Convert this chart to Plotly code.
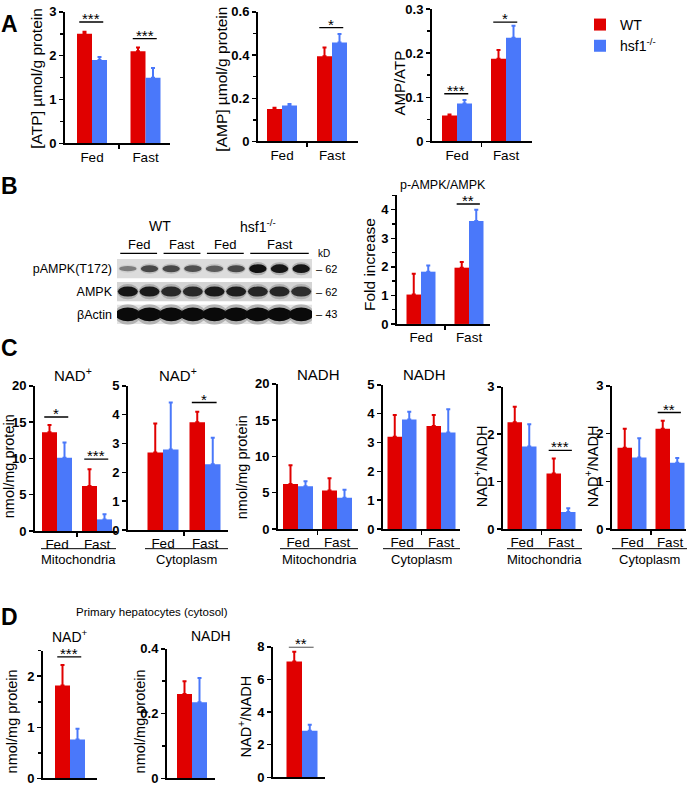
import plotly.graph_objects as go

W, H = 687, 802
RED = "#E00000"
BLUE = "#4A78FA"
FONT = "Arial, 'Liberation Sans', Helvetica, sans-serif"

groups = ["Fed", "Fast"]
series_names = ["WT", "hsf1<sup>-/-</sup>"]

# ---------------- data ----------------
# A
atp_wt, atp_wt_err = [2.50, 2.10], [0.05, 0.09]
atp_ko, atp_ko_err = [1.90, 1.50], [0.07, 0.22]
amp_wt, amp_wt_err = [0.150, 0.395], [0.006, 0.040]
amp_ko, amp_ko_err = [0.167, 0.458], [0.006, 0.040]
ratio_a_wt, ratio_a_wt_err = [0.059, 0.187], [0.002, 0.020]
ratio_a_ko, ratio_a_ko_err = [0.086, 0.235], [0.008, 0.027]
# B
pampk_wt, pampk_wt_err = [1.03, 1.97], [0.73, 0.20]
pampk_ko, pampk_ko_err = [1.83, 3.60], [0.22, 0.40]
# C
nad_mito_wt, nad_mito_wt_err = [13.6, 6.2], [1.0, 2.3]
nad_mito_ko, nad_mito_ko_err = [10.1, 1.6], [2.1, 0.7]
nad_cyto_wt, nad_cyto_wt_err = [2.69, 3.74], [1.00, 0.36]
nad_cyto_ko, nad_cyto_ko_err = [2.79, 2.28], [1.63, 0.92]
nadh_mito_wt, nadh_mito_wt_err = [6.2, 5.3], [2.6, 1.7]
nadh_mito_ko, nadh_mito_ko_err = [5.9, 4.3], [0.7, 1.1]
nadh_cyto_wt, nadh_cyto_wt_err = [3.20, 3.57], [0.75, 0.38]
nadh_cyto_ko, nadh_cyto_ko_err = [3.80, 3.35], [0.27, 0.80]
rat_mito_wt, rat_mito_wt_err = [2.25, 1.17], [0.33, 0.32]
rat_mito_ko, rat_mito_ko_err = [1.74, 0.36], [0.47, 0.08]
rat_cyto_wt, rat_cyto_wt_err = [1.70, 2.10], [0.40, 0.17]
rat_cyto_ko, rat_cyto_ko_err = [1.50, 1.39], [0.40, 0.10]
# D (primary hepatocytes)
d_nad_wt, d_nad_wt_err = [1.82], [0.40]
d_nad_ko, d_nad_ko_err = [0.76], [0.21]
d_nadh_wt, d_nadh_wt_err = [0.26], [0.04]
d_nadh_ko, d_nadh_ko_err = [0.235], [0.075]
d_rat_wt, d_rat_wt_err = [7.10], [0.60]
d_rat_ko, d_rat_ko_err = [2.85], [0.37]

# blot band intensities (lanes: WT Fed x2, WT Fast x2, KO Fed x2, KO Fast x3)
blot_rows = ["pAMPK(T172)", "AMPK", "βActin"]
blot_kd = ["62", "62", "43"]
band_pampk = [0.30, 0.60, 0.60, 0.55, 0.50, 0.60, 0.95, 0.90, 0.90]
band_ampk = [0.92, 0.88, 0.78, 0.78, 0.88, 0.85, 0.80, 0.80, 0.75]
band_actin = [1.0, 1.0, 1.0, 1.0, 1.0, 1.0, 1.0, 1.0, 1.0]
blot_groups = ["Fed", "Fast", "Fed", "Fast"]
blot_group_lanes = [(0, 2), (2, 4), (4, 6), (6, 9)]
blot_genotypes = ["WT", "hsf1<sup>-/-</sup>"]

# ---------------- chart layout specs ----------------
charts = [
    dict(d=(atp_wt, atp_wt_err, atp_ko, atp_ko_err), cats=groups, left=65, right=170, cF=92, cS=145.5, bw=15,
         zero=139, top=5, ymax=3, major=[0, 1, 2, 3], lab=["0", "1", "2", "3"], minor=0.5,
         sig=[(0, 2.77, "***"), (1, 2.39, "***")]),
    dict(d=(amp_wt, amp_wt_err, amp_ko, amp_ko_err), cats=groups, left=258, right=358, cF=282, cS=332, bw=15,
         zero=137, top=5, ymax=0.6, major=[0, 0.2, 0.4, 0.6], lab=["0", "0.2", "0.4", "0.6"], minor=0.1,
         sig=[(1, 0.527, "*")]),
    dict(d=(ratio_a_wt, ratio_a_wt_err, ratio_a_ko, ratio_a_ko_err), cats=groups, left=432, right=532, cF=457, cS=506, bw=15,
         zero=137, top=2, ymax=0.3, major=[0, 0.1, 0.2, 0.3], lab=["0", "0.1", "0.2", "0.3"], minor=0.05,
         sig=[(0, 0.108, "***"), (1, 0.27, "*")]),
    dict(d=(pampk_wt, pampk_wt_err, pampk_ko, pampk_ko_err), cats=groups, left=397, right=490, cF=421, cS=469, bw=14.5,
         zero=323, top=192, ymax=4.5, major=[0, 1, 2, 3, 4], lab=["0", "1", "2", "3", "4"], minor=0.5,
         sig=[(1, 4.2, "**")]),
    dict(d=(nad_mito_wt, nad_mito_wt_err, nad_mito_ko, nad_mito_ko_err), cats=groups, left=35, right=117, cF=57, cS=97, bw=15,
         zero=534, top=386, ymax=20, major=[0, 5, 10, 15, 20], lab=["0", "5", "10", "15", "20"], minor=None,
         sig=[(0, 15.7, "*"), (1, 9.9, "***")]),
    dict(d=(nad_cyto_wt, nad_cyto_wt_err, nad_cyto_ko, nad_cyto_ko_err), cats=groups, left=128, right=228, cF=163, cS=205, bw=15.5,
         zero=533, top=386, ymax=5, major=[0, 1, 2, 3, 4, 5], lab=["0", "1", "2", "3", "4", "5"], minor=None,
         sig=[(1, 4.42, "*")]),
    dict(d=(nadh_mito_wt, nadh_mito_wt_err, nadh_mito_ko, nadh_mito_ko_err), cats=groups, left=278, right=358, cF=298, cS=337, bw=15,
         zero=532, top=384, ymax=20, major=[0, 5, 10, 15, 20], lab=["0", "5", "10", "15", "20"], minor=None, sig=[]),
    dict(d=(nadh_cyto_wt, nadh_cyto_wt_err, nadh_cyto_ko, nadh_cyto_ko_err), cats=groups, left=383, right=460, cF=402, cS=441, bw=14.5,
         zero=532, top=385, ymax=5, major=[0, 1, 2, 3, 4, 5], lab=["0", "1", "2", "3", "4", "5"], minor=None, sig=[]),
    dict(d=(rat_mito_wt, rat_mito_wt_err, rat_mito_ko, rat_mito_ko_err), cats=groups, left=503, right=582, cF=522, cS=561, bw=14.5,
         zero=532, top=387, ymax=3, major=[0, 1, 2, 3], lab=["0", "1", "2", "3"], minor=None,
         sig=[(1, 1.66, "***")]),
    dict(d=(rat_cyto_wt, rat_cyto_wt_err, rat_cyto_ko, rat_cyto_ko_err), cats=groups, left=612, right=686, cF=632, cS=670, bw=14.5,
         zero=532, top=386, ymax=3, major=[0, 1, 2, 3], lab=["0", "1", "2", "3"], minor=None,
         sig=[(1, 2.44, "**")]),
    dict(d=(d_nad_wt, d_nad_wt_err, d_nad_ko, d_nad_ko_err), cats=[""], left=43, right=97, cF=70, cS=None, bw=15,
         zero=786, top=656, ymax=2.5, major=[0, 1, 2], lab=["0", "1", "2"], minor=0.5,
         sig=[(0, 2.38, "***")]),
    dict(d=(d_nadh_wt, d_nadh_wt_err, d_nadh_ko, d_nadh_ko_err), cats=[""], left=167, right=215, cF=192, cS=None, bw=15,
         zero=786, top=654, ymax=0.4, major=[0, 0.2, 0.4], lab=["0", "0.2", "0.4"], minor=0.1, sig=[]),
    dict(d=(d_rat_wt, d_rat_wt_err, d_rat_ko, d_rat_ko_err), cats=[""], left=273, right=325, cF=302, cS=None, bw=15.5,
         zero=785, top=652, ymax=8, major=[0, 2, 4, 6, 8], lab=["0", "2", "4", "6", "8"], minor=None,
         sig=[(0, 8.0, "**")]),
]

fig = go.Figure()
layout = {}
shapes = []
annotations = []


def px(x):
    return x / W


def py(y):
    return 1 - y / H


def sfx(i):
    return "" if i == 1 else str(i)


for i, c in enumerate(charts, start=1):
    n = sfx(i)
    xs = list(range(len(c["cats"])))
    u = (c["cS"] - c["cF"]) if c["cS"] else 50.0
    w = c["bw"] / u
    wt, wt_e, ko, ko_e = c["d"]
    for k, (vals, errs, col, name) in enumerate([(wt, wt_e, RED, series_names[0]), (ko, ko_e, BLUE, series_names[1])]):
        fig.add_trace(go.Bar(
            x=xs, y=vals, width=[w] * len(xs), offset=-w if k == 0 else 0,
            marker=dict(color=col, line=dict(width=0)), name=name,
            legendgroup=name, showlegend=(i == 1),
            error_y=dict(type="data", symmetric=False, array=errs, arrayminus=[0] * len(errs),
                         color=col, thickness=2, width=2),
            xaxis="x" + n, yaxis="y" + n, hoverinfo="skip"))
    multi = len(xs) > 1
    xa = dict(domain=[px(c["left"]), px(c["right"])],
              range=[(c["left"] - c["cF"]) / u, (c["right"] - c["cF"]) / u],
              anchor="y" + n, tickmode="array", tickvals=xs, ticktext=c["cats"], ticks="",
              showticklabels=multi,
              showline=True, linecolor="black", linewidth=2, showgrid=False, zeroline=False,
              tickfont=dict(family=FONT, size=13.5, color="black"), fixedrange=True)
    if multi:
        xa["minor"] = dict(tickmode="array", tickvals=[0.5], ticks="outside", ticklen=4,
                           tickwidth=1.5, tickcolor="black", showgrid=False)
    layout["xaxis" + n] = xa
    ya = dict(domain=[py(c["zero"]), py(c["top"])], range=[0, c["ymax"]], anchor="x" + n,
              tickmode="array", tickvals=c["major"], ticktext=c["lab"], ticks="outside", ticklen=4,
              tickwidth=1.5, tickcolor="black", showline=True, linecolor="black", linewidth=2,
              showgrid=False, zeroline=False,
              tickfont=dict(family=FONT, size=13, color="black", weight="bold"), fixedrange=True)
    if c["minor"]:
        ya["minor"] = dict(dtick=c["minor"], tick0=0, ticks="outside", ticklen=3, tickwidth=1.5,
                           tickcolor="black", showgrid=False)
    layout["yaxis" + n] = ya
    for (g, yv, lab) in c["sig"]:
        shapes.append(dict(type="line", xref="x" + n, yref="y" + n, x0=g - 0.85 * w, x1=g + 0.75 * w,
                           y0=yv, y1=yv, line=dict(color="black", width=1.3)))
        annotations.append(dict(xref="x" + n, yref="y" + n, x=g - 0.05 * w, y=yv, text=lab, showarrow=False,
                                yanchor="bottom", yshift=-7, font=dict(family=FONT, size=15, color="black")))

# ---------------- blot (panel B) ----------------
bi = len(charts) + 1
bn = sfx(bi)
nl = len(band_pampk)
layout["xaxis" + bn] = dict(domain=[px(117), px(312)], range=[0, nl], anchor="y" + bn, visible=False, fixedrange=True)
layout["yaxis" + bn] = dict(domain=[py(325), py(255)], range=[3, 0], anchor="x" + bn, showline=False,
                            showgrid=False, zeroline=False, ticks="", tickmode="array",
                            tickvals=[0.5, 1.5, 2.5], ticktext=blot_rows, ticklabelstandoff=4,
                            tickfont=dict(family=FONT, size=12.5, color="black"), fixedrange=True)
# invisible trace to anchor blot axes
fig.add_trace(go.Scatter(x=[0, nl], y=[0, 3], mode="markers", marker=dict(opacity=0), showlegend=False,
                         hoverinfo="skip", xaxis="x" + bn, yaxis="y" + bn))
row_bg = ["#dcdcdc", "#d4d4d4", "#e4e4e4"]
for r, bands in enumerate([band_pampk, band_ampk, band_actin]):
    shapes.append(dict(type="rect", xref="x" + bn, yref="y" + bn, x0=0, x1=nl, y0=r + 0.08, y1=r + 0.92,
                       fillcolor=row_bg[r], line=dict(width=0), layer="below"))
    for li, inten in enumerate(bands):
        if r == 0:
            thick, spread = 0.08 + 0.12 * inten, 0.06
        elif r == 1:
            thick, spread = 0.22, 0.0
        else:
            thick, spread = 0.30, -0.10
        # soft halo
        shapes.append(dict(type="circle", xref="x" + bn, yref="y" + bn, x0=li + spread, x1=li + 1 - spread,
                           y0=r + 0.5 - thick * 1.5, y1=r + 0.5 + thick * 1.5,
                           fillcolor="rgba(30,30,30,%.2f)" % (0.25 * inten), line=dict(width=0)))
        shapes.append(dict(type="circle", xref="x" + bn, yref="y" + bn, x0=li + spread + 0.04, x1=li + 1 - spread - 0.04,
                           y0=r + 0.5 - thick, y1=r + 0.5 + thick,
                           fillcolor="rgba(10,10,10,%.2f)" % (0.15 + 0.85 * inten), line=dict(width=0)))
    annotations.append(dict(xref="x" + bn, yref="y" + bn, x=nl, y=r + 0.5, xanchor="left", yanchor="middle", xshift=2,
                            text="– " + blot_kd[r], showarrow=False, font=dict(family=FONT, size=11, color="black")))
annotations.append(dict(xref="x" + bn, yref="y" + bn, x=nl, y=0, xanchor="left", yanchor="middle", xshift=4, yshift=4,
                        text="kD", showarrow=False, font=dict(family=FONT, size=10, color="black")))
for (a, b), lab in zip(blot_group_lanes, blot_groups):
    shapes.append(dict(type="line", xref="x" + bn, yref="paper", x0=a + 0.15, x1=b - 0.15,
                       y0=py(251), y1=py(251), line=dict(color="black", width=1.3)))
    annotations.append(dict(xref="x" + bn, yref="paper", x=(a + b) / 2, y=py(242), yanchor="middle",
                            text=lab, showarrow=False, font=dict(family=FONT, size=13, color="black")))
for (a, b), lab in zip([(0, 4), (4, 9)], blot_genotypes):
    annotations.append(dict(xref="x" + bn, yref="paper", x=(a + b) / 2, y=py(223), yanchor="middle",
                            text=lab, showarrow=False, font=dict(family=FONT, size=14, color="black")))

# ---------------- texts ----------------
def note(x, y, text, size=13, angle=0, bold=False, xanchor="center"):
    annotations.append(dict(xref="paper", yref="paper", x=px(x), y=py(y), text=text, showarrow=False,
                            textangle=angle, xanchor=xanchor, yanchor="middle",
                            font=dict(family=FONT, size=size, color="black", weight="bold" if bold else "normal")))

for lab, (x, y) in zip(["A", "B", "C", "D"], [(9, 17), (9, 182), (9, 347), (9, 622)]):
    note(x, y, lab, size=23, bold=True)

ytitles = [
    (37, 73, "[ATP] µmol/g protein", 15.5), (222, 73, "[AMP] µmol/g protein", 15.5), (400, 77, "AMP/ATP", 15),
    (369, 263, "Fold increase", 15.5), (9, 468, "nmol/mg protein", 14.5), (242, 469, "nmol/mg protein", 14.5),
    (481, 468, "NAD<sup>+</sup>/NADH", 14.5), (592, 468, "NAD<sup>+</sup>/NADH", 14.5),
    (12, 728, "nmol/mg protein", 14.5), (140, 728, "nmol/mg protein", 14.5), (245, 723, "NAD<sup>+</sup>/NADH", 14.5),
]
for x, y, t, s in ytitles:
    note(x, y, t, size=s, angle=-90)

titles = [(443, 181, "p-AMPK/AMPK", 12.5), (73, 374, "NAD<sup>+</sup>", 15), (178, 374, "NAD<sup>+</sup>", 15),
          (318, 374, "NADH", 15), (424, 374, "NADH", 15), (70, 641, "NAD<sup>+</sup>", 14), (211, 641, "NADH", 14),
          (152, 617, "Primary hepatocytes (cytosol)", 11.5)]
for x, y, t, s in titles:
    note(x, y, t, size=s)

# compartment underlines in panel C
compartments = [(41, 116, "Mitochondria"), (145, 228, "Cytoplasm"), (280, 358, "Mitochondria"),
                (383, 460, "Cytoplasm"), (507, 582, "Mitochondria"), (612, 687, "Cytoplasm")]
for a, b, t in compartments:
    shapes.append(dict(type="line", xref="paper", yref="paper", x0=px(a), x1=px(b), y0=py(552), y1=py(552),
                       line=dict(color="black", width=1)))
    note((a + b) / 2, 563, t, size=13)

fig.update_layout(
    width=W, height=H, margin=dict(l=0, r=0, t=0, b=0), paper_bgcolor="white", plot_bgcolor="white",
    barmode="overlay", showlegend=True,
    legend=dict(x=px(580), y=py(2), xanchor="left", yanchor="top", font=dict(family=FONT, size=14, color="black"),
                itemwidth=30, tracegroupgap=0, bgcolor="rgba(0,0,0,0)"),
    shapes=shapes, annotations=annotations, font=dict(family=FONT, color="black"), **layout)

fig.write_html("out.html", config={"displayModeBar": False, "staticPlot": True},
               post_script="document.body.style.margin='0';document.body.style.overflow='hidden';")
